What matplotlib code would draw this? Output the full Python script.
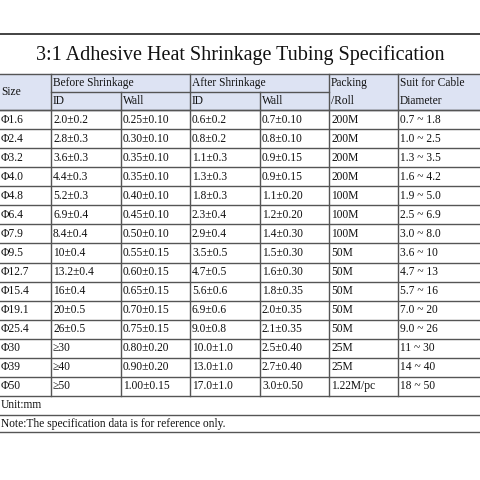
import matplotlib
matplotlib.use("Agg")
import matplotlib.pyplot as plt
from matplotlib.patches import Rectangle

plt.rcParams['font.family'] = ['Liberation Serif', 'DejaVu Serif']

title = "3:1 Adhesive Heat Shrinkage Tubing Specification"
sizes = ["Φ1.6","Φ2.4","Φ3.2","Φ4.0","Φ4.8","Φ6.4","Φ7.9","Φ9.5","Φ12.7","Φ15.4","Φ19.1","Φ25.4","Φ30","Φ39","Φ50"]
before_id = ["2.0±0.2","2.8±0.3","3.6±0.3","4.4±0.3","5.2±0.3","6.9±0.4","8.4±0.4","10±0.4","13.2±0.4","16±0.4","20±0.5","26±0.5","≥30","≥40","≥50"]
before_wall = ["0.25±0.10","0.30±0.10","0.35±0.10","0.35±0.10","0.40±0.10","0.45±0.10","0.50±0.10","0.55±0.15","0.60±0.15","0.65±0.15","0.70±0.15","0.75±0.15","0.80±0.20","0.90±0.20","1.00±0.15"]
after_id = ["0.6±0.2","0.8±0.2","1.1±0.3","1.3±0.3","1.8±0.3","2.3±0.4","2.9±0.4","3.5±0.5","4.7±0.5","5.6±0.6","6.9±0.6","9.0±0.8","10.0±1.0","13.0±1.0","17.0±1.0"]
after_wall = ["0.7±0.10","0.8±0.10","0.9±0.15","0.9±0.15","1.1±0.20","1.2±0.20","1.4±0.30","1.5±0.30","1.6±0.30","1.8±0.35","2.0±0.35","2.1±0.35","2.5±0.40","2.7±0.40","3.0±0.50"]
packing = ["200M","200M","200M","200M","100M","100M","100M","50M","50M","50M","50M","50M","25M","25M","1.22M/pc"]
cable = ["0.7 ~ 1.8","1.0 ~ 2.5","1.3 ~ 3.5","1.6 ~ 4.2","1.9 ~ 5.0","2.5 ~ 6.9","3.0 ~ 8.0","3.6 ~ 10","4.7 ~ 13","5.7 ~ 16","7.0 ~ 20","9.0 ~ 26","11 ~ 30","14 ~ 40","18 ~ 50"]
unit_note = "Unit:mm"
ref_note = "Note:The specification data is for reference only."

fig = plt.figure(figsize=(4.8, 4.8), dpi=100)
ax = fig.add_axes([0, 0, 1, 1])
ax.set_xlim(0, 480); ax.set_ylim(480, 0); ax.axis('off')

cols = [0, 51, 121, 190, 260, 329, 398, 480]
y_top, y_h1, y_h2, y_data = 34, 74, 92, 110
rh = (396 - 110) / 15
y_end = y_data + rh * len(sizes)
y_unit = y_end + 19
y_note = y_unit + 17

lc = '#555555'
ax.add_patch(Rectangle((0, y_h1), 480, y_data - y_h1, color='#dde3f3', zorder=0))
ax.plot([0, 480], [y_top, y_top], color='#222222', lw=1.2)
ax.text(240, 55, title, ha='center', va='center', fontsize=14.5, color='#111111')
for y in [y_h1, y_data, y_end, y_unit, y_note]:
    ax.plot([0, 480], [y, y], color=lc, lw=1)
ax.plot([51, 329], [y_h2, y_h2], color=lc, lw=1)
for i in range(len(sizes)):
    y = y_data + rh * i
    ax.plot([0, 480], [y, y], color=lc, lw=1)
for i, x in enumerate(cols[1:-1], start=1):
    y0 = y_h2 if x in (121, 260) else y_h1
    ax.plot([x, x], [y0, y_end], color=lc, lw=1)

fs = 8.3
def t(x, y, s):
    ax.text(x + 2, y, s, ha='left', va='center', fontsize=fs, color='#111111')
t(-1, (y_h1 + y_data) / 2, "Size")
t(51, (y_h1 + y_h2) / 2, "Before Shrinkage")
t(190, (y_h1 + y_h2) / 2, "After Shrinkage")
t(329, (y_h1 + y_h2) / 2, "Packing")
t(398, (y_h1 + y_h2) / 2, "Suit for Cable")
t(51, (y_h2 + y_data) / 2, "ID"); t(121, (y_h2 + y_data) / 2, "Wall")
t(190, (y_h2 + y_data) / 2, "ID"); t(260, (y_h2 + y_data) / 2, "Wall")
t(329, (y_h2 + y_data) / 2, "/Roll"); t(398, (y_h2 + y_data) / 2, "Diameter")
for i in range(len(sizes)):
    yc = y_data + rh * (i + 0.5)
    for x, arr in zip(cols[:-1], [sizes, before_id, before_wall, after_id, after_wall, packing, cable]):
        t(x - (1 if x == 0 else 0), yc, arr[i])
t(-1, (y_end + y_unit) / 2, unit_note)
t(-1, (y_unit + y_note) / 2, ref_note)
fig.savefig("out.png", dpi=100, facecolor='white')
